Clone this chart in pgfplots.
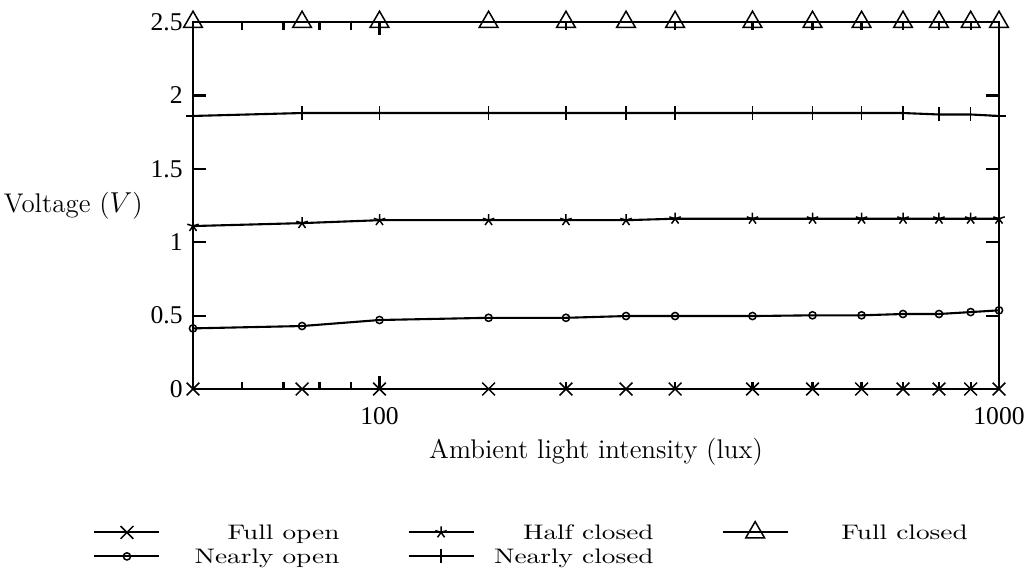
\documentclass[border=0pt]{standalone}
\usepackage{fontspec}
\usepackage{graphicx}
\usepackage{pgfplots}
\pgfplotsset{compat=1.18}
\newfontfamily\tickfont{Liberation Serif}
\newcommand{\legtext}[1]{\makebox[123.5pt][l]{\makebox[89.5pt][r]{\scalebox{1.3}[1]{#1}}}}
\begin{document}
\begin{tikzpicture}
\path[use as bounding box] (-96.5pt,-90pt) rectangle (417.5pt,194.5pt);
\begin{axis}[
  scale only axis, width=403pt, height=183.5pt,
  xmode=log, xmin=50, xmax=1000, ymin=0, ymax=2.5,
  xtick={100,1000}, xticklabels={100,1000},
  minor xtick={60,70,80,90,200,300,400,500,600,700,800,900},
  ytick={0,0.5,1,1.5,2,2.5},
  yticklabels={0,0.5,1,1.5,2,2.5},
  tick pos=both, tick align=inside,
  major tick length=6.5pt, minor tick length=3.75pt,
  every tick/.style={black, line width=1.1pt},
  axis line style={line width=1.1pt},
  ticklabel style={font=\tickfont\fontsize{12.8}{14}\selectfont},
  xticklabel style={anchor=base, inner sep=0pt, yshift=-17.5pt},
  yticklabel style={anchor=east, inner sep=0pt, xshift=-5pt},
  xlabel={Ambient light intensity (lux)},
  xlabel style={at={(axis description cs:0.5,-0.1894)}, anchor=base, inner sep=0pt, font=\fontsize{13.5}{15}\selectfont},
  ylabel={Voltage ($V$)},
  ylabel style={rotate=-90, at={(axis description cs:-0.062,0.5)}, anchor=east, inner sep=0pt, font=\fontsize{13.5}{15}\selectfont},
  clip=false,
  legend columns=3,
  legend style={at={(axis description cs:-0.12407,-0.35695)}, anchor=north west, draw=none, fill=none,
    inner sep=0pt, column sep=0pt, row sep=0pt,
    nodes={inner sep=0pt, text height=9.5pt, text depth=2.5pt},
    cells={anchor=west}, font=\fontsize{10.5}{12}\selectfont},
  legend image code/.code={\draw[mark repeat=2,mark phase=2,#1] plot coordinates {(0pt,0pt)(16.25pt,0pt)(32.5pt,0pt)};},
]
\addplot[black, line width=1.05pt, mark=x, mark size=4.5pt, mark options={line width=0.75pt}] coordinates {
(50,0)(75,0)(100,0)(150,0)(200,0)(250,0)(300,0)(400,0)(500,0)(600,0)(700,0)(800,0)(900,0)(1000,0)};
\addlegendentry{\legtext{Full open}}
\addplot[black, line width=1.05pt, mark=star, mark size=3pt, mark options={line width=0.75pt}] coordinates {
(50,1.11)(75,1.13)(100,1.15)(150,1.15)(200,1.15)(250,1.15)(300,1.16)(400,1.16)(500,1.16)(600,1.16)(700,1.16)(800,1.16)(900,1.16)(1000,1.16)};
\addlegendentry{\legtext{Half closed}}
\addplot[black, line width=1.05pt, mark=triangle, mark size=5.4pt, mark options={line width=0.75pt}] coordinates {
(50,2.5)(75,2.5)(100,2.5)(150,2.5)(200,2.5)(250,2.5)(300,2.5)(400,2.5)(500,2.5)(600,2.5)(700,2.5)(800,2.5)(900,2.5)(1000,2.5)};
\addlegendentry{\legtext{Full closed}}
\addplot[black, line width=1.05pt, mark=o, mark size=1.8pt, mark options={line width=0.75pt}] coordinates {
(50,0.413)(75,0.429)(100,0.470)(150,0.485)(200,0.485)(250,0.497)(300,0.497)(400,0.497)(500,0.502)(600,0.502)(700,0.511)(800,0.511)(900,0.524)(1000,0.536)};
\addlegendentry{\legtext{Nearly open}}
\addplot[black, line width=1.05pt, mark=+, mark size=3.5pt, mark options={line width=0.75pt}] coordinates {
(50,1.86)(75,1.88)(100,1.88)(150,1.88)(200,1.88)(250,1.88)(300,1.88)(400,1.88)(500,1.88)(600,1.88)(700,1.88)(800,1.87)(900,1.87)(1000,1.86)};
\addlegendentry{\legtext{Nearly closed}}
\end{axis}
\end{tikzpicture}
\end{document}
